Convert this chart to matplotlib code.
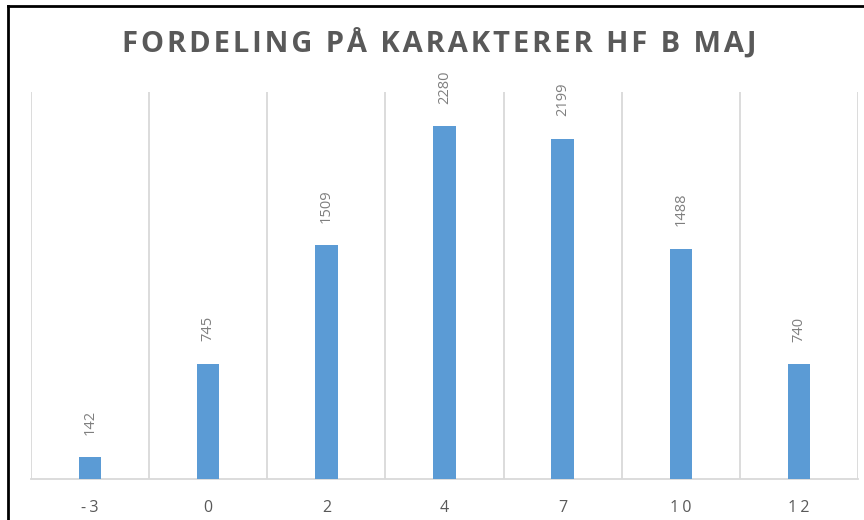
import numpy as np
import matplotlib
matplotlib.use("Agg")
from matplotlib import pyplot as plt

grades = ["-3", "0", "2", "4", "7", "10", "12"]
counts = [142, 745, 1509, 2280, 2199, 1488, 740]

TEXT = "#595959"
BLUE = "#5B9BD5"
FONT = ["Open Sans", "DejaVu Sans"]
HS = "\u200a"  # hair space, used as letter spacing


def spaced(s, n=1):
    return (HS * n).join(s)


fig = plt.figure(figsize=(8.64, 5.2), dpi=100)
ax = fig.add_axes([31 / 864, 1 - 479 / 520, 827 / 864, 387 / 520])

x = np.arange(len(grades))
ax.bar(x, counts, width=0.19, color=BLUE, zorder=3)

for xi, v in zip(x, counts):
    ax.annotate(str(v), (xi, v), xytext=(0, 16), textcoords="offset points",
                rotation=90, ha="center", va="bottom", fontsize=10.5,
                color="#7F7F7F", family=FONT)

ax.set_xlim(-0.5, len(grades) - 0.5)
ax.set_ylim(0, 2500)
ax.set_yticks([])
ax.set_xticks(x)
ax.set_xticklabels([spaced(g, 2) for g in grades], fontsize=11.5, color=TEXT,
                   family=FONT)
ax.tick_params(axis="x", length=0, pad=15)

# vertical category separators
for b in np.arange(-0.5, len(grades), 1.0):
    ax.axvline(b, color="#D9D9D9", lw=1.3, zorder=1)

for s in ["top", "right", "left"]:
    ax.spines[s].set_visible(False)
ax.spines["bottom"].set_color("#D9D9D9")
ax.spines["bottom"].set_linewidth(1.3)

fig.text(439.5 / 864, 1 - 43 / 520, spaced("FORDELING PÅ KARAKTERER HF B MAJ"),
         ha="center", va="center", fontsize=21, fontweight="bold",
         color=TEXT, family=FONT)

# outer frame (left and top edges visible in the crop)
fig.add_artist(plt.Line2D([8 / 864, 8 / 864], [0, 1 - 6 / 520],
                          transform=fig.transFigure, color="black", lw=2))
fig.add_artist(plt.Line2D([8 / 864, 1], [1 - 6 / 520, 1 - 6 / 520],
                          transform=fig.transFigure, color="black", lw=2))

fig.savefig("out.png", dpi=100)
